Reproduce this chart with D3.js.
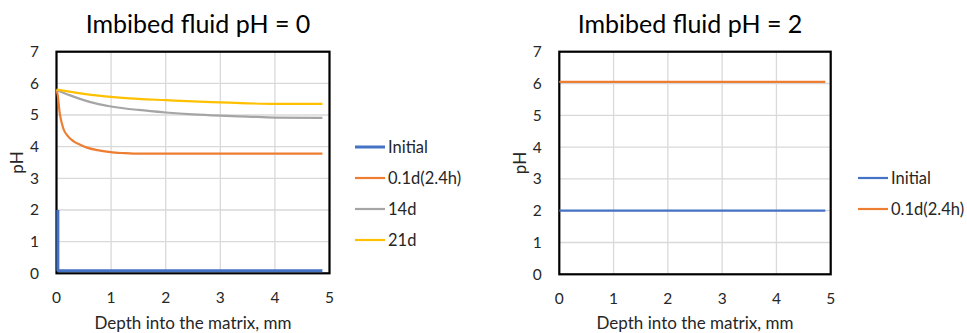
<!DOCTYPE html>
<html>
<head>
	<meta charset="utf-8">
	<script src="https://cdnjs.cloudflare.com/ajax/libs/d3/7.8.5/d3.min.js"></script>
	<style>
		body { margin: 0; background: #fff; }
		text { font-family: Lato, "Open Sans", sans-serif; fill: #262626; }
	</style>
</head>
<body>
	<svg width="967" height="333"></svg>
	<script>
		// ---- data ----
		let xTicks = [0, 1, 2, 3, 4, 5],
			yTicks = [0, 1, 2, 3, 4, 5, 6, 7];

		// left panel: imbibed fluid pH = 0
		let initDepth0 = [0.025, 0.025, 0.04, 4.87],
			initPH0 = [2.0, 0.1, 0.08, 0.08];
		let d01Depth0 = [0, 0.02, 0.06, 0.13, 0.2, 0.32, 0.45, 0.56, 0.75, 0.99, 1.2, 1.41, 2, 3, 4, 4.87],
			d01PH0 = [5.8, 5.65, 5.05, 4.55, 4.35, 4.16, 4.05, 3.97, 3.89, 3.83, 3.8, 3.78, 3.78, 3.78, 3.78, 3.78];
		let d14Depth0 = [0, 0.25, 0.5, 0.75, 1, 1.5, 2, 2.5, 3, 3.5, 4, 4.87],
			d14PH0 = [5.79, 5.62, 5.47, 5.35, 5.27, 5.16, 5.08, 5.02, 4.98, 4.95, 4.92, 4.91];
		let d21Depth0 = [0, 0.5, 1, 1.5, 2, 2.5, 3, 3.5, 4, 4.87],
			d21PH0 = [5.8, 5.67, 5.57, 5.51, 5.47, 5.43, 5.4, 5.37, 5.35, 5.35];

		// right panel: imbibed fluid pH = 2
		let initDepth2 = [0, 4.9],
			initPH2 = [2.0, 2.0];
		let d01Depth2 = [0, 4.9],
			d01PH2 = [6.05, 6.05];

		let seriesNames = ["Initial", "0.1d(2.4h)", "14d", "21d"],
			seriesColors = ["#4472C4", "#ED7D31", "#A5A5A5", "#FFC000"];

		let svg = d3.select("svg");

		function zip(xs, ys) { return xs.map(function(x, i) { return [x, ys[i]]; }); }

		function panel(opt) {
			let x = d3.scaleLinear().domain([0, 5]).range([opt.left, opt.right]),
				y = d3.scaleLinear().domain([0, 7]).range([opt.bottom, opt.top]);
			let g = svg.append("g");

			//gridlines
			g.append("g").selectAll("line").data(xTicks).enter().append("line")
				.attr("x1", function(d) { return x(d); }).attr("x2", function(d) { return x(d); })
				.attr("y1", opt.top).attr("y2", opt.bottom)
				.attr("stroke", "#d9d9d9").attr("stroke-width", 1.3);
			g.append("g").selectAll("line").data(yTicks).enter().append("line")
				.attr("x1", opt.left).attr("x2", opt.right)
				.attr("y1", function(d) { return y(d); }).attr("y2", function(d) { return y(d); })
				.attr("stroke", "#d9d9d9").attr("stroke-width", 1.3);

			//frame
			g.append("rect")
				.attr("x", opt.left).attr("y", opt.top)
				.attr("width", opt.right - opt.left).attr("height", opt.bottom - opt.top)
				.attr("fill", "none").attr("stroke", "#000").attr("stroke-width", 2.2);

			//series
			opt.series.forEach(function(s) {
				g.append("path")
					.datum(s.pts)
					.attr("fill", "none")
					.attr("stroke", s.color)
					.attr("stroke-width", s.width)
					.attr("stroke-linejoin", "round")
					.attr("d", d3.line().x(function(d) { return x(d[0]); }).y(function(d) { return y(d[1]); }).curve(s.smooth ? d3.curveMonotoneX : d3.curveLinear));
			});

			//tick labels
			g.append("g").selectAll("text").data(xTicks).enter().append("text")
				.attr("x", function(d) { return x(d); }).attr("y", opt.bottom + 30)
				.attr("text-anchor", "middle").style("font-size", "15.5px")
				.text(function(d) { return d; });
			g.append("g").selectAll("text").data(yTicks).enter().append("text")
				.attr("x", opt.left - 22).attr("y", function(d) { return y(d); })
				.attr("dy", "0.35em")
				.attr("text-anchor", "middle").style("font-size", "15.5px")
				.text(function(d) { return d; });

			//axis titles
			g.append("text")
				.attr("x", (opt.left + opt.right) / 2).attr("y", 329)
				.attr("text-anchor", "middle").style("font-size", "17px")
				.text("Depth into the matrix, mm");
			g.append("text")
				.attr("transform", "translate(" + (opt.left - 39) + "," + ((opt.top + opt.bottom) / 2) + ") rotate(-90)")
				.attr("text-anchor", "middle").attr("dy", "0.35em").style("font-size", "17px")
				.text("pH");

			//title
			g.append("text")
				.attr("x", opt.titleX).attr("y", 33)
				.attr("text-anchor", "middle").style("font-size", "25px").style("fill", "#000")
				.text(opt.title);

			//legend
			let legend = g.append("g").selectAll("g")
				.data(opt.series).enter().append("g")
				.attr("transform", function(d, i) { return "translate(" + opt.legX + "," + (opt.legY + i * opt.legStep) + ")"; });
			legend.append("line")
				.attr("x1", 0).attr("x2", 30)
				.attr("stroke", function(d) { return d.color; })
				.attr("stroke-width", function(d) { return d.width; });
			legend.append("text")
				.attr("x", 33).attr("dy", "0.35em")
				.style("font-size", "16.5px")
				.text(function(d) { return d.name; });
		}

		panel({
			left: 56.5, right: 329.5, top: 51.7, bottom: 273.3,
			title: "Imbibed fluid pH = 0", titleX: 198,
			legX: 355, legY: 147, legStep: 31,
			series: [
				{name: seriesNames[0], color: seriesColors[0], width: 3, pts: zip(initDepth0, initPH0)},
				{name: seriesNames[1], color: seriesColors[1], width: 2.2, smooth: true, pts: zip(d01Depth0, d01PH0)},
				{name: seriesNames[2], color: seriesColors[2], width: 2.2, smooth: true, pts: zip(d14Depth0, d14PH0)},
				{name: seriesNames[3], color: seriesColors[3], width: 2.2, smooth: true, pts: zip(d21Depth0, d21PH0)}
			]
		});

		panel({
			left: 559.3, right: 830.7, top: 51.7, bottom: 274.3,
			title: "Imbibed fluid pH = 2", titleX: 690,
			legX: 858, legY: 178, legStep: 31,
			series: [
				{name: seriesNames[0], color: seriesColors[0], width: 2.2, pts: zip(initDepth2, initPH2)},
				{name: seriesNames[1], color: seriesColors[1], width: 2.2, pts: zip(d01Depth2, d01PH2)}
			]
		});
	</script>
</body>
</html>
